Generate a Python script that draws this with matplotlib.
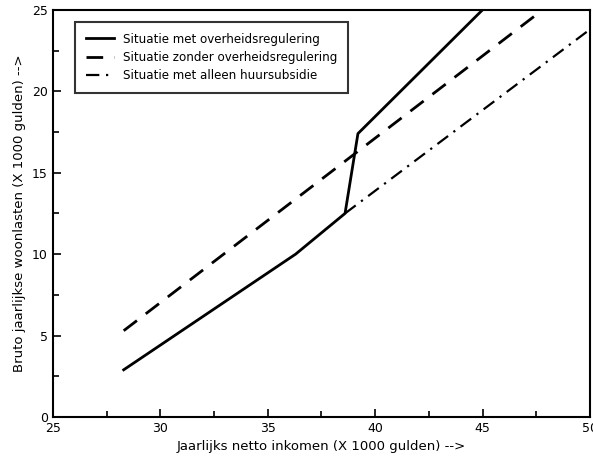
import matplotlib
matplotlib.use("Agg")
import matplotlib.pyplot as plt
from matplotlib.ticker import MultipleLocator

# data
met_x = [28.3, 36.3, 38.6, 39.2, 45.0]
met_y = [2.9, 10.0, 12.5, 17.4, 25.0]
zonder_x = [28.3, 47.8]
zonder_y = [5.3, 25.0]
subsidie_x = [38.6, 50.0]
subsidie_y = [12.5, 23.8]

labels = ["Situatie met overheidsregulering",
          "Situatie zonder overheidsregulering",
          "Situatie met alleen huursubsidie"]

fig = plt.figure(figsize=(5.93, 4.67), dpi=100)
ax = fig.add_axes([0.089, 0.107, 0.906, 0.872])

ax.plot(met_x, met_y, color="black", lw=2.0, label=labels[0])
ax.plot(zonder_x, zonder_y, color="black", lw=2.0, dashes=(6, 4), label=labels[1])
ax.plot(subsidie_x, subsidie_y, color="black", lw=1.6,
        dashes=(6, 3, 1, 3), label=labels[2])

ax.set_xlim(25, 50)
ax.set_ylim(0, 25)
ax.xaxis.set_major_locator(MultipleLocator(5))
ax.xaxis.set_minor_locator(MultipleLocator(2.5))
ax.yaxis.set_major_locator(MultipleLocator(5))
ax.yaxis.set_minor_locator(MultipleLocator(2.5))
ax.tick_params(which="both", direction="in", top=False, right=False,
               labelsize=9, width=1.2)
ax.tick_params(which="major", length=6)
ax.tick_params(which="minor", length=4)
for s in ax.spines.values():
    s.set_linewidth(1.5)

ax.set_xlabel("Jaarlijks netto inkomen (X 1000 gulden) -->", fontsize=9.5)
ax.set_ylabel("Bruto jaarlijkse woonlasten (X 1000 gulden) -->", fontsize=9.5)

leg = ax.legend(loc="upper left", bbox_to_anchor=(0.03, 0.985), fontsize=8.6,
                frameon=True, fancybox=False, handlelength=2.4,
                borderpad=0.9, labelspacing=0.45, handletextpad=0.7)
leg.get_frame().set_edgecolor("black")
leg.get_frame().set_linewidth(1.5)

fig.savefig("out.png", dpi=100)
